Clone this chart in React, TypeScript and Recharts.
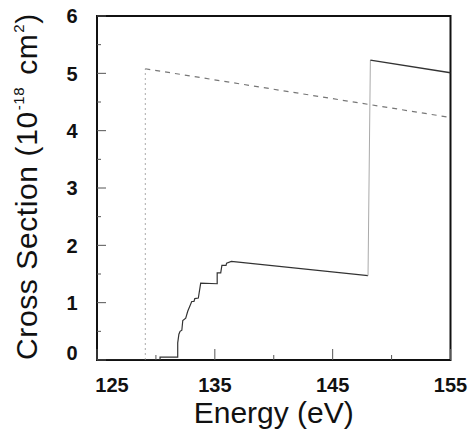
import React from 'react';
import { LineChart, Line, XAxis, YAxis, ReferenceArea, Label } from 'recharts';

// Energy (eV) and cross section (1e-18 cm^2)
const solidLow = [
  { e: 125, v: 0 }, { e: 130.35, v: 0 }, { e: 130.35, v: 0.05 }, { e: 131.85, v: 0.05 },
  { e: 131.85, v: 0.3 }, { e: 131.95, v: 0.45 }, { e: 132.05, v: 0.5 }, { e: 132.2, v: 0.52 },
  { e: 132.28, v: 0.69 }, { e: 132.53, v: 0.73 }, { e: 132.7, v: 0.85 }, { e: 133.04, v: 1.02 },
  { e: 133.23, v: 1.02 }, { e: 133.3, v: 1.07 }, { e: 133.6, v: 1.08 }, { e: 133.8, v: 1.34 },
  { e: 135.2, v: 1.33 }, { e: 135.2, v: 1.52 }, { e: 135.5, v: 1.52 }, { e: 135.6, v: 1.65 },
  { e: 135.95, v: 1.65 }, { e: 136.0, v: 1.69 }, { e: 136.4, v: 1.72 }, { e: 148.0, v: 1.47 },
];
const solidJump = [ { e: 148.0, v: 1.47 }, { e: 148.2, v: 5.23 } ];
const solidHigh = [ { e: 148.2, v: 5.23 }, { e: 155, v: 5.01 } ];
const dashedRise = [ { e: 129.1, v: 0 }, { e: 129.1, v: 5.08 } ];
const dashedTop = [ { e: 129.1, v: 5.08 }, { e: 155, v: 4.23 } ];

const xTicks = [125, 130, 135, 140, 145, 150, 155];
const xLabels = [125, 135, 145, 155];
const yTicks = [0, 0.5, 1, 1.5, 2, 2.5, 3, 3.5, 4, 4.5, 5, 5.5, 6];
const yLabels = [0, 1, 2, 3, 4, 5, 6];

const FONT = '"Liberation Sans", Arial, Helvetica, sans-serif';

const XTick = (props: any) => {
  const { x, y, payload } = props;
  const v = payload.value;
  const major = xLabels.includes(v);
  return (
    <g>
      <line x1={x} x2={x} y1={y} y2={y - (major ? 11 : 5)} stroke="#555" strokeWidth={1} />
      {major && (
        <text x={x + (v === 125 ? 15 : 0)} y={y + 31.5} textAnchor="middle" fontSize={20}
          fontWeight="bold" fontFamily={FONT} fill="#111">{v}</text>
      )}
    </g>
  );
};

const YTick = (props: any) => {
  const { x, y, payload } = props;
  const v = payload.value;
  const major = yLabels.includes(v);
  return (
    <g>
      <line x1={x} x2={x + (major ? 9 : 4)} y1={y} y2={y} stroke="#555" strokeWidth={1} />
      {major && (
        <text x={x - 19.5} y={y + (v === 0 ? -7 : 0)} dy="0.36em" textAnchor="end" fontSize={20}
          fontWeight="bold" fontFamily={FONT} fill="#111">{v}</text>
      )}
    </g>
  );
};

const YTitle = (props: any) => {
  const vb = props.viewBox || {};
  const cx = 37;
  const cy = (vb.y ?? 16) + (vb.height ?? 344) / 2 - 1.5;
  return (
    <text transform={`translate(${cx},${cy}) rotate(-90)`} textAnchor="middle" fontSize={30}
      fontFamily={FONT} fill="#111" letterSpacing={0.6}>
      <tspan>Cross Section (10</tspan>
      <tspan fontSize={15} dy={-13} dx={1}>-18</tspan>
      <tspan dy={13} dx={3}> cm</tspan>
      <tspan fontSize={15} dy={-13} dx={1}>2</tspan>
      <tspan dy={13}>)</tspan>
    </text>
  );
};

const XTitle = (props: any) => {
  const vb = props.viewBox || {};
  const cx = (vb.x ?? 97) + (vb.width ?? 354) / 2;
  const y = (vb.y ?? 360) + 62.5;
  return (
    <text x={cx} y={y} textAnchor="middle" fontSize={30} fontFamily={FONT} fill="#111">Energy (eV)</text>
  );
};

export default function App() {
  return (
    <div style={{ position: 'absolute', left: 0, top: 0, width: 468, height: 434 }}>
      <LineChart width={468} height={434} margin={{ top: 16, right: 17.5, bottom: 0, left: 0 }}>
        <XAxis type="number" dataKey="e" domain={[125, 155]} ticks={xTicks} allowDataOverflow
          axisLine={false} tickLine={false} tickSize={0} tickMargin={0} tick={<XTick />} height={74}
          interval={0}>
          <Label content={<XTitle />} />
        </XAxis>
        <YAxis type="number" domain={[0, 6]} ticks={yTicks} allowDataOverflow axisLine={false}
          tickLine={false} tickSize={0} tickMargin={0} tick={<YTick />} width={97} interval={0}>
          <Label content={<YTitle />} />
        </YAxis>
        <ReferenceArea x1={125} x2={155} y1={0} y2={6} fill="none" stroke="#111" strokeWidth={2}
          fillOpacity={0} />
        <Line data={dashedRise} dataKey="v" type="linear" stroke="#aaa" strokeWidth={1}
          strokeDasharray="2 3" dot={false} isAnimationActive={false} />
        <Line data={dashedTop} dataKey="v" type="linear" stroke="#777" strokeWidth={1.2}
          strokeDasharray="5 5" dot={false} isAnimationActive={false} />
        <Line data={solidLow} dataKey="v" type="linear" stroke="#333" strokeWidth={1.2}
          dot={false} isAnimationActive={false} />
        <Line data={solidJump} dataKey="v" type="linear" stroke="#aaa" strokeWidth={1}
          dot={false} isAnimationActive={false} />
        <Line data={solidHigh} dataKey="v" type="linear" stroke="#333" strokeWidth={1.3}
          dot={false} isAnimationActive={false} />
      </LineChart>
    </div>
  );
}
